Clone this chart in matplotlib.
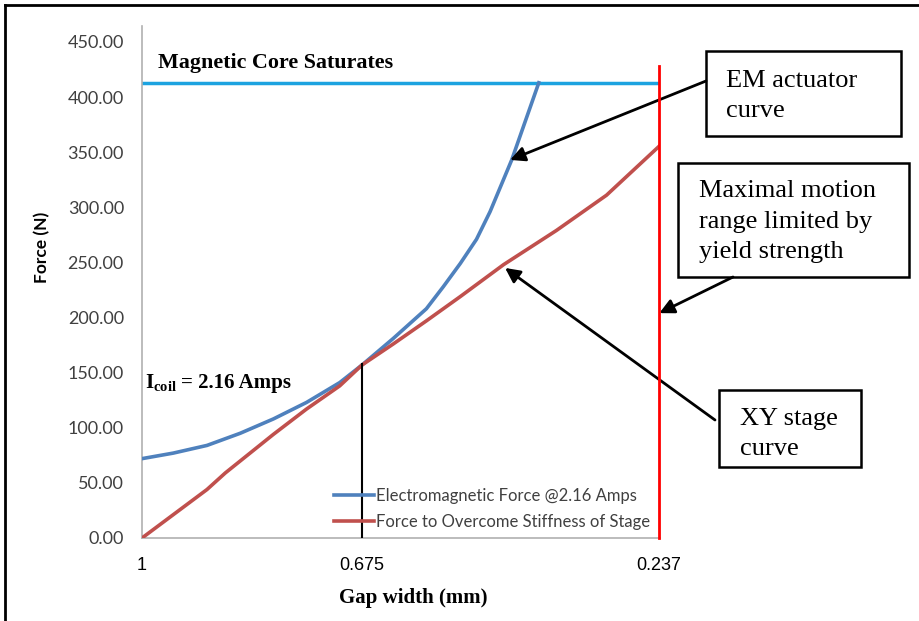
import matplotlib
matplotlib.use('Agg')
import matplotlib.pyplot as plt
from matplotlib.lines import Line2D
from matplotlib.patches import Rectangle

# data (gap in mm, force in N)
em_gap = [1.0, 0.954, 0.904, 0.855, 0.806, 0.757, 0.708, 0.675, 0.629, 0.580,
          0.555, 0.530, 0.506, 0.486, 0.454, 0.414]
em_force = [72, 77, 84, 95, 108, 123, 141, 157, 181, 208,
            228, 249, 271, 296, 343, 413]

st_gap = [1.0, 0.904, 0.877, 0.806, 0.757, 0.708, 0.675, 0.629, 0.580,
          0.530, 0.466, 0.388, 0.314, 0.237]
st_force = [0, 44, 59, 94, 117, 138, 157, 176, 197,
            219, 248, 279, 311, 355]

sat_force = 413
yield_gap = 0.237
cross_gap = 0.675
cross_force = 158

x_ticks = [1, 0.675, 0.237]
x_tick_labels = ['1', '0.675', '0.237']
y_ticks = [0, 50, 100, 150, 200, 250, 300, 350, 400, 450]

W, H = 920, 621
fig = plt.figure(figsize=(W / 100, H / 100), dpi=100)
ax = fig.add_axes([142 / W, 1 - 538 / H, 518 / W, 512 / H])

def fp(x, y):
    # image pixel -> figure fraction
    return x / W, 1 - y / H

# curves
ax.plot(em_gap, em_force, color='#4F81BD', lw=2.6, label='Electromagnetic Force @2.16 Amps',
        zorder=3, solid_joinstyle='round')
ax.plot(st_gap, st_force, color='#C0504D', lw=2.6, label='Force to Overcome Stiffness of Stage',
        zorder=3, solid_joinstyle='round')

# saturation line, yield limit, crossing marker
ax.plot([1.0, 0.235], [sat_force, sat_force], color='#1CA3E0', lw=2.5, zorder=2)
ax.plot([yield_gap, yield_gap], [0, 428], color='#FF0000', lw=2, clip_on=False, zorder=4)
ax.plot([cross_gap, cross_gap], [0, cross_force], color='black', lw=1.5, zorder=4)

ax.set_xlim(1.0, 0.235)
ax.set_ylim(0, 464.5)
ax.set_xticks(x_ticks)
ax.set_xticklabels(x_tick_labels, fontsize=13, family='Liberation Sans')
ax.set_yticks(y_ticks)
ax.set_yticklabels(['%.2f' % v for v in y_ticks], fontsize=13, family='Lato', color='#404040')
ax.tick_params(axis='both', length=0)
ax.tick_params(axis='y', pad=13)
ax.tick_params(axis='x', pad=14)
for s in ['top', 'right']:
    ax.spines[s].set_visible(False)
for s in ['left', 'bottom']:
    ax.spines[s].set_color('#B0B0B0')
    ax.spines[s].set_linewidth(1.2)

ax.set_ylabel('Force (N)', fontsize=12.5, family='Lato', fontweight='bold')
ax.yaxis.set_label_coords(-0.178, 0.568)
ax.set_xlabel('Gap width (mm)', fontsize=15, family='Liberation Serif', fontweight='bold')
ax.xaxis.set_label_coords(0.523, -0.098)

leg = ax.legend(loc='lower right', bbox_to_anchor=(0.98, 0.015), frameon=False,
                prop={'family': 'Lato', 'size': 12}, handlelength=2.4, handletextpad=0.1,
                labelspacing=0.6, borderaxespad=0, borderpad=0)
for t in leg.get_texts():
    t.set_color('#404040')

# in-plot labels
ax.text(0.976, 426, 'Magnetic Core Saturates', fontsize=15.8, family='Liberation Serif',
        fontweight='bold', va='baseline')
plt.rcParams['mathtext.fontset'] = 'custom'
plt.rcParams['mathtext.bf'] = 'Liberation Serif:bold'
plt.rcParams['mathtext.rm'] = 'Liberation Serif'
ax.text(0.9956, 136, r'$\mathbf{I_{coil}}$', fontsize=15, family='Liberation Serif',
        fontweight='bold', va='baseline')
ax.text(0.9424, 136, '= 2.16 Amps', fontsize=15, family='Liberation Serif',
        fontweight='bold', va='baseline')

# call-out boxes
boxes = [(706, 51, 195, 85), (678, 163, 231, 114), (719, 390, 142, 77)]
for bx, by, bw, bh in boxes:
    fig.patches.append(Rectangle(fp(bx, by + bh), bw / W, bh / H, transform=fig.transFigure,
                                 fill=False, edgecolor='black', lw=1.8))

box_lines = [
    (726, 87, 'EM actuator'), (726, 117, 'curve'),
    (699, 197, 'Maximal motion'), (699, 228, 'range limited by'), (699, 258, 'yield strength'),
    (740, 425, 'XY stage'), (740, 455, 'curve'),
]
for tx, ty, s in box_lines:
    fig.text(*fp(tx, ty), s, fontsize=19, family='Liberation Serif', va='baseline')

# arrows from the boxes to the curves
arrow = dict(arrowstyle='-|>', mutation_scale=22, lw=2, color='black', shrinkA=0, shrinkB=0)
ax.annotate('', xy=(0.4564, 343), xycoords='data', xytext=fp(706, 81),
            textcoords='figure fraction', arrowprops=arrow, annotation_clip=False)
ax.annotate('', xy=(0.4638, 245), xycoords='data', xytext=fp(715, 420),
            textcoords='figure fraction', arrowprops=arrow, annotation_clip=False)
ax.annotate('', xy=(0.236, 204), xycoords='data', xytext=fp(733, 277),
            textcoords='figure fraction', arrowprops=arrow, annotation_clip=False)

# outer frame (top and left edges only)
fig.lines.append(Line2D([5 / W, 1], [1 - 5 / H, 1 - 5 / H], transform=fig.transFigure, color='black', lw=2))
fig.lines.append(Line2D([5 / W, 5 / W], [0, 1 - 5 / H], transform=fig.transFigure, color='black', lw=2))

fig.savefig('out.png', dpi=100)
